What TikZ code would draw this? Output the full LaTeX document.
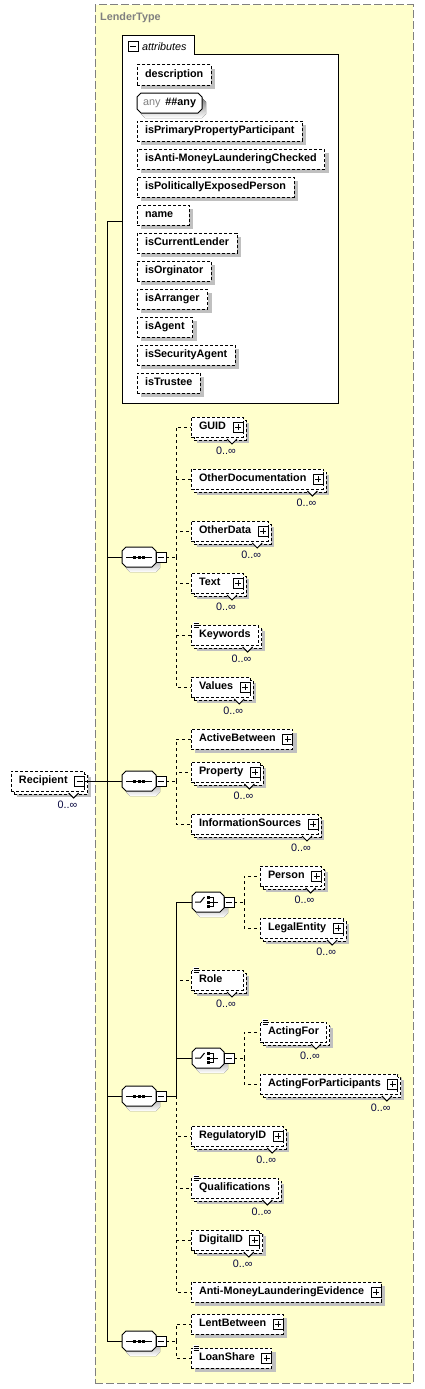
\documentclass[tikz,border=0pt]{standalone}
\usepackage{fontspec}
\setmainfont{Liberation Sans}
\usetikzlibrary{shadows, positioning}

\definecolor{typefill}{RGB}{255,255,204}
\definecolor{typeline}{RGB}{128,128,128}
\definecolor{occtext}{RGB}{8,8,64}
\definecolor{shade}{RGB}{192,192,192}

\pgfdeclarelayer{front}
\pgfsetlayers{main,front}

\newsavebox\elbox
\newcommand\eltail{}
\newcommand\curel{}
\newcommand\elfont{\fontsize{10.8}{13}\selectfont}

\tikzset{octline/.style={insert path={([xshift=4pt]#1.north west) -- ([xshift=-4pt]#1.north east) -- ([yshift=-4pt]#1.north east) -- ([yshift=4pt]#1.south east) -- ([xshift=-4pt]#1.south east) -- ([xshift=4pt]#1.south west) -- ([yshift=4pt]#1.south west) -- ([yshift=-4pt]#1.north west) -- cycle}}}

\tikzstyle{typebox} = [
	draw=typeline,
	line width=1pt,
	dash pattern=on 8pt off 3pt,
	fill=typefill,
	inner sep=0pt,
	outer sep=0pt
]
\tikzstyle{typename} = [anchor=west, inner sep=0pt, text=typeline, font=\elfont\bfseries]
\tikzstyle{attrframe} = [draw, line width=1pt, fill=white]
\tikzstyle{occ} = [inner sep=0pt, text=occtext, font=\elfont]
\tikzstyle{elem} = [
	rectangle,
	draw,
	line width=1pt,
	dash pattern=on 3pt off 2pt,
	fill=white,
	anchor=west,
	inner xsep=8pt,
	inner ysep=0pt,
	outer sep=0pt,
	minimum height=20pt,
	text height=8pt,
	text depth=2.5pt,
	font=\elfont\bfseries,
	execute at begin node={\setbox\elbox=\hbox\bgroup},
	execute at end node={\eltail\egroup\ifdim\wd\elbox<36pt\wd\elbox=36pt\fi\box\elbox},
	drop shadow={shadow xshift=4pt, shadow yshift=-4pt, draw=none, fill=shade, opacity=1},
	append after command={\pgfextra{\xdef\curel{\tikzlastnode}}}
]
\tikzstyle{multi} = [
	drop shadow={shadow xshift=6pt, shadow yshift=-6pt, draw=none, fill=shade, opacity=1},
	copy shadow={shadow xshift=3pt, shadow yshift=-3pt, draw=black, fill=white, opacity=1},
	append after command={\pgfextra{
		\begin{pgfonlayer}{front}
		\draw[solid, line width=1pt, fill=white] ([xshift=-16pt,yshift=-2pt]\curel.south east) -- ([xshift=-11pt,yshift=-7pt]\curel.south east) -- ([xshift=-6pt,yshift=-2pt]\curel.south east);
		\node[occ, anchor=east] at ([xshift=-7pt,yshift=-14pt]\curel.south east) {0..∞};
		\end{pgfonlayer}}}
]
\tikzstyle{expand} = [
	execute at begin node={\def\eltail{\hspace{9pt}}},
	append after command={\pgfextra{
		\begin{pgfonlayer}{front}
		\draw[solid, line width=1pt, fill=white] ([xshift=-10pt,yshift=-5pt]\curel.east) rectangle ([yshift=5pt]\curel.east);
		\draw[solid, line width=1pt] ([xshift=-8pt]\curel.east) -- ([xshift=-2pt]\curel.east) ([xshift=-5pt,yshift=-3pt]\curel.east) -- ([xshift=-5pt,yshift=3pt]\curel.east);
		\end{pgfonlayer}}}
]
\tikzstyle{collapse} = [
	execute at begin node={\def\eltail{\hspace{9pt}}},
	append after command={\pgfextra{
		\begin{pgfonlayer}{front}
		\draw[solid, line width=1pt, fill=white] ([xshift=-10pt,yshift=-5pt]\curel.east) rectangle ([yshift=5pt]\curel.east);
		\draw[solid, line width=1pt] ([xshift=-8pt]\curel.east) -- ([xshift=-2pt]\curel.east);
		\end{pgfonlayer}}}
]
\tikzstyle{simple} = [
	append after command={\pgfextra{
		\begin{pgfonlayer}{front}
		\fill[white] ([xshift=2pt,yshift=3pt]\curel.north west) rectangle ([xshift=8pt,yshift=-3pt]\curel.north west);
		\foreach \dy in {2,0,-2} \draw[solid, line width=0.7pt] ([xshift=2.5pt,yshift=\dy pt]\curel.north west) -- ++(5pt,0pt);
		\end{pgfonlayer}}}
]
\tikzstyle{octo} = [
	rectangle,
	anchor=west,
	inner ysep=0pt,
	outer sep=0pt,
	minimum height=20pt,
	append after command={\pgfextra{\xdef\curel{\tikzlastnode}
		\fill[shade, transform canvas={shift={(4pt,-5pt)}}, octline=\curel];
		\draw[solid, line width=1pt, fill=white, octline=\curel];}}
]
\tikzstyle{anyattr} = [
	octo,
	inner xsep=6pt,
	text height=8pt,
	text depth=2.5pt,
	font=\elfont\bfseries
]
\tikzstyle{sequence} = [
	octo,
	inner xsep=0pt,
	minimum width=34pt,
	append after command={\pgfextra{
		\draw[solid, line width=1pt] ([xshift=-13pt]\curel.center) -- ([xshift=13pt]\curel.center);
		\foreach \dx in {-4.6,0,4.6} \fill ([xshift=\dx pt]\curel.center) ++(-1.5pt,-1.5pt) rectangle ++(3pt,3pt);}}
]
\tikzstyle{choice} = [
	octo,
	inner xsep=0pt,
	minimum width=32pt,
	append after command={\pgfextra{
		\draw[solid, line width=1pt] ([xshift=-13pt]\curel.center) -- ([xshift=-7.5pt]\curel.center) -- ([xshift=-3.5pt,yshift=5pt]\curel.center);
		\foreach \dy in {-4.5,0,4.5} \fill ([xshift=-1pt,yshift=\dy pt]\curel.center) ++(0pt,-1.5pt) rectangle ++(3pt,3pt);
		\draw[solid, line width=1pt] ([xshift=2pt,yshift=4.5pt]\curel.center) -| ([xshift=5.5pt,yshift=-4.5pt]\curel.center) -- ([xshift=2pt,yshift=-4.5pt]\curel.center);
		\draw[solid, line width=1pt] ([xshift=2pt]\curel.center) -- ([xshift=10pt]\curel.center);}}
]
\tikzstyle{minus} = [
	rectangle,
	draw,
	solid,
	line width=1pt,
	fill=white,
	minimum size=10pt,
	inner sep=0pt,
	outer sep=0pt,
	path picture={\draw[line width=1pt] ([xshift=2pt]path picture bounding box.west) -- ([xshift=-2pt]path picture bounding box.east);}
]
\tikzstyle{req} = [draw, line width=1pt]
\tikzstyle{opt} = [draw, line width=1pt, dash pattern=on 3pt off 3pt]

\begin{document}
\begin{tikzpicture}[x=1pt, y=-1pt]
	\useasboundingbox (0,0) rectangle (424,1389);

	\node (lender) [typebox, anchor=north west, minimum width=318pt, minimum height=1378pt] at (95,5) {};
	\node (lendername) [typename] at (100,18) {LenderType};

	% attributes
	\node (attrs) [inner sep=0pt, outer sep=0pt, minimum width=216pt, minimum height=348pt, anchor=north west] at (122,55) {};
	\draw [attrframe] (attrs.south west) -- ([yshift=19pt]attrs.north west) -- ++(72,0) |- (attrs.north east) -- (attrs.south east) -- cycle;
	\node (attrm) [minus, anchor=west] at (128,47) {};
	\node (attrlabel) [right=4pt of attrm, inner sep=0pt, font=\elfont\itshape] {attributes};

	\node (description) [elem] at (137,75) {description};
	\node (anyattr) [anyattr] at (137,103) {{\mdseries\color{gray}any}\hspace{5pt}\#\#any};
	\node (isprimary) [elem] at (137,131) {isPrimaryPropertyParticipant};
	\node (isamlchecked) [elem] at (137,159) {isAnti-MoneyLaunderingChecked};
	\node (ispep) [elem] at (137,187) {isPoliticallyExposedPerson};
	\node (name) [elem] at (137,215) {name};
	\node (iscurrent) [elem] at (137,243) {isCurrentLender};
	\node (isorginator) [elem] at (137,271) {isOrginator};
	\node (isarranger) [elem] at (137,299) {isArranger};
	\node (isagent) [elem] at (137,327) {isAgent};
	\node (issecagent) [elem] at (137,355) {isSecurityAgent};
	\node (istrustee) [elem] at (137,383) {isTrustee};

	% root
	\node (recipient) [elem, multi, collapse] at (11,781) {Recipient};

	% first sequence
	\node (seqa) [sequence] at (122,557) {};
	\node (seqam) [minus, right=0pt of seqa] {};
	\coordinate [right=10pt of seqam] (seqaj);
	\node (guid) [elem, multi, expand] at (191,427) {GUID};
	\node (otherdoc) [elem, multi, expand] at (191,479) {OtherDocumentation};
	\node (otherdata) [elem, multi, expand] at (191,531) {OtherData};
	\node (textel) [elem, multi, expand] at (191,583) {Text};
	\node (keywords) [elem, multi, simple] at (191,635) {Keywords};
	\node (values) [elem, multi, expand] at (191,687) {Values};

	% second sequence
	\node (seqb) [sequence] at (122,781) {};
	\node (seqbm) [minus, right=0pt of seqb] {};
	\coordinate [right=10pt of seqbm] (seqbj);
	\node (activebetween) [elem, expand] at (191,739) {ActiveBetween};
	\node (property) [elem, multi, expand] at (191,772) {Property};
	\node (infosources) [elem, multi, expand] at (191,824) {InformationSources};

	% third sequence
	\node (seqc) [sequence] at (122,1096) {};
	\node (seqcm) [minus, right=0pt of seqc] {};
	\coordinate [right=10pt of seqcm] (seqcj);
	\node (choicea) [choice] at (192,902) {};
	\node (choiceam) [minus, right=0pt of choicea] {};
	\coordinate [right=10pt of choiceam] (choiceaj);
	\node (person) [elem, multi, expand] at (260,876) {Person};
	\node (legalentity) [elem, multi, expand] at (260,928) {LegalEntity};
	\node (role) [elem, multi, simple] at (191,980) {Role};
	\node (choiceb) [choice] at (192,1058) {};
	\node (choicebm) [minus, right=0pt of choiceb] {};
	\coordinate [right=10pt of choicebm] (choicebj);
	\node (actingfor) [elem, multi, simple] at (260,1032) {ActingFor};
	\node (actingforpart) [elem, multi, expand] at (260,1084) {ActingForParticipants};
	\node (regulatoryid) [elem, multi, expand] at (191,1136) {RegulatoryID};
	\node (qualifications) [elem, multi, simple] at (191,1188) {Qualifications};
	\node (digitalid) [elem, multi, expand] at (191,1240) {DigitalID};
	\node (amlevidence) [elem, expand] at (191,1292) {Anti-MoneyLaunderingEvidence};

	% fourth sequence
	\node (seqd) [sequence] at (122,1341) {};
	\node (seqdm) [minus, right=0pt of seqd] {};
	\coordinate [right=10pt of seqdm] (seqdj);
	\node (lentbetween) [elem, expand] at (191,1324) {LentBetween};
	\node (loanshare) [elem, simple, expand] at (191,1358) {LoanShare};

	% trunk
	\coordinate (trunk) at (107,221);
	\draw [req] (trunk) -- (trunk -| attrs.west);
	\draw [req] (trunk) |- (seqd.west);
	\draw [req] (trunk) |- (seqa.west);
	\draw [req] (trunk) |- (seqc.west);
	\draw [req] (recipient.east) -- (seqb.west);

	\draw [opt] (seqam.east) -- (seqaj);
	\draw [opt] (seqaj) |- (guid.west);
	\draw [opt] (seqaj) |- (otherdoc.west);
	\draw [opt] (seqaj) |- (otherdata.west);
	\draw [opt] (seqaj) |- (textel.west);
	\draw [opt] (seqaj) |- (keywords.west);
	\draw [opt] (seqaj) |- (values.west);

	\draw [opt] (seqbm.east) -- (seqbj);
	\draw [opt] (seqbj) |- (activebetween.west);
	\draw [opt] (seqbj) |- (property.west);
	\draw [opt] (seqbj) |- (infosources.west);

	\draw [opt] (seqcj) |- (role.west);
	\draw [opt] (seqcj) |- (regulatoryid.west);
	\draw [opt] (seqcj) |- (qualifications.west);
	\draw [opt] (seqcj) |- (digitalid.west);
	\draw [opt] (seqcj) |- (amlevidence.west);
	\draw [req] (seqcm.east) -- (seqcj);
	\draw [req] (seqcj) |- (choicea.west);
	\draw [req] (seqcj) |- (choiceb.west);

	\draw [opt] (choiceam.east) -- (choiceaj);
	\draw [opt] (choiceaj) |- (person.west);
	\draw [opt] (choiceaj) |- (legalentity.west);
	\draw [opt] (choicebm.east) -- (choicebj);
	\draw [opt] (choicebj) |- (actingfor.west);
	\draw [opt] (choicebj) |- (actingforpart.west);

	\draw [opt] (seqdm.east) -- (seqdj);
	\draw [opt] (seqdj) |- (lentbetween.west);
	\draw [opt] (seqdj) |- (loanshare.west);
\end{tikzpicture}
\end{document}
